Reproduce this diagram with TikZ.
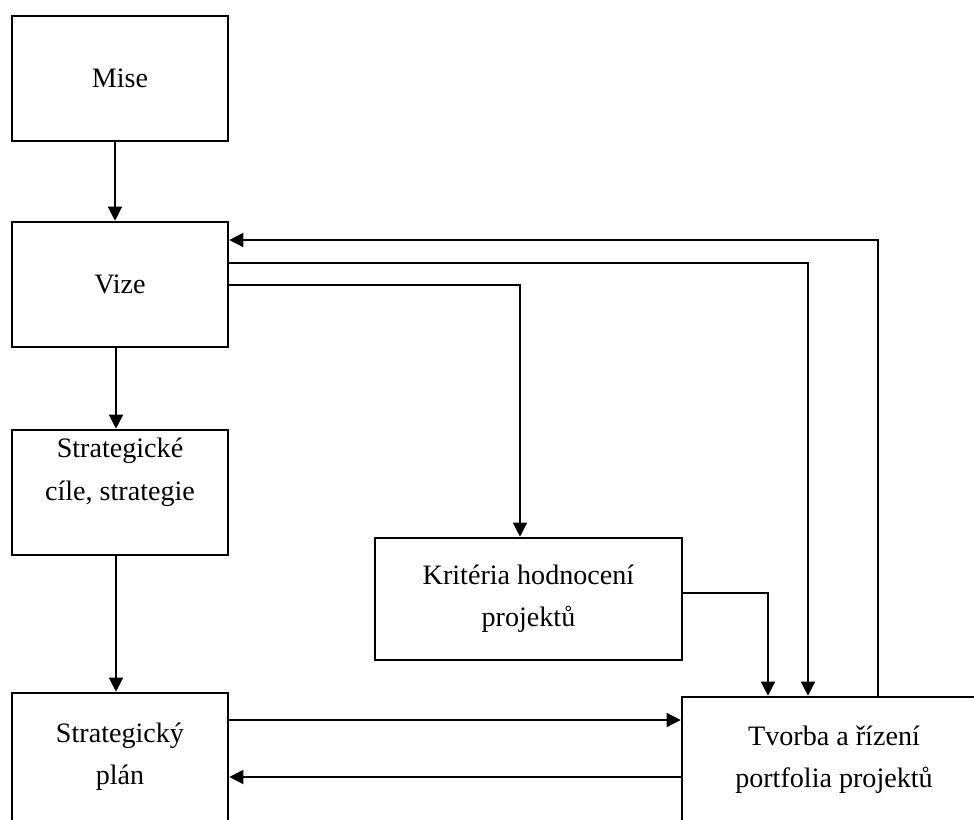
\documentclass[tikz,border=0pt]{standalone}
\usepackage{fontspec}
\setmainfont{Liberation Serif}
\usetikzlibrary{arrows.meta}

\begin{document}
\begin{tikzpicture}[x=0.02cm, y=-0.02cm, font=\fontsize{16}{24}\selectfont,
    box/.style={draw, line width=1.5pt, align=center, inner sep=0pt},
    arr/.style={-{Triangle[length=8pt, width=8pt]}, line width=0.75pt}]
    \useasboundingbox (0,0) rectangle (974,819);
    \clip (0,0) rectangle (974,819);
    % Boxes
    \node[box, minimum width=4.32cm, minimum height=2.5cm] (mise) at (120,78.5) {Mise};
    \node[box, minimum width=4.32cm, minimum height=2.5cm] (vize) at (120,284.5) {Vize};
    \node[box, minimum width=4.32cm, minimum height=2.5cm] (cile) at (120,492.5)
        {\raisebox{0.44cm}[\height][\depth]{\begin{tabular}{@{}c@{}}Strategické\\cíle, strategie\end{tabular}}};
    \node[box, minimum width=6.14cm, minimum height=2.44cm] (krit) at (528.5,599) {Kritéria hodnocení\\projektů};
    \node[box, minimum width=4.32cm, minimum height=2.56cm] (plan) at (120,757) {Strategický\\plán};
    \node[box, minimum width=6.08cm, minimum height=2.52cm] (tvorba) at (834,760) {Tvorba a řízení\\portfolia projektů};

    % Flow
    \draw[arr] (mise.south -| 115,0) -- (vize.north -| 115,0);
    \draw[arr] (vize.south -| 116,0) -- (cile.north -| 116,0);
    \draw[arr] (cile.south -| 116,0) -- (plan.north -| 116,0);
    \draw[arr] (tvorba.north -| 878,0) |- (vize.east |- 0,240);
    \draw[arr] (vize.east |- 0,263) -| (tvorba.north -| 808,0);
    \draw[arr] (vize.east |- 0,285) -| (krit.north -| 520,0);
    \draw[arr] (krit.east |- 0,593) -| (tvorba.north -| 768,0);
    \draw[arr] (plan.east |- 0,720) -- (tvorba.west |- 0,720);
    \draw[arr] (tvorba.west |- 0,777) -- (plan.east |- 0,777);
\end{tikzpicture}
\end{document}
